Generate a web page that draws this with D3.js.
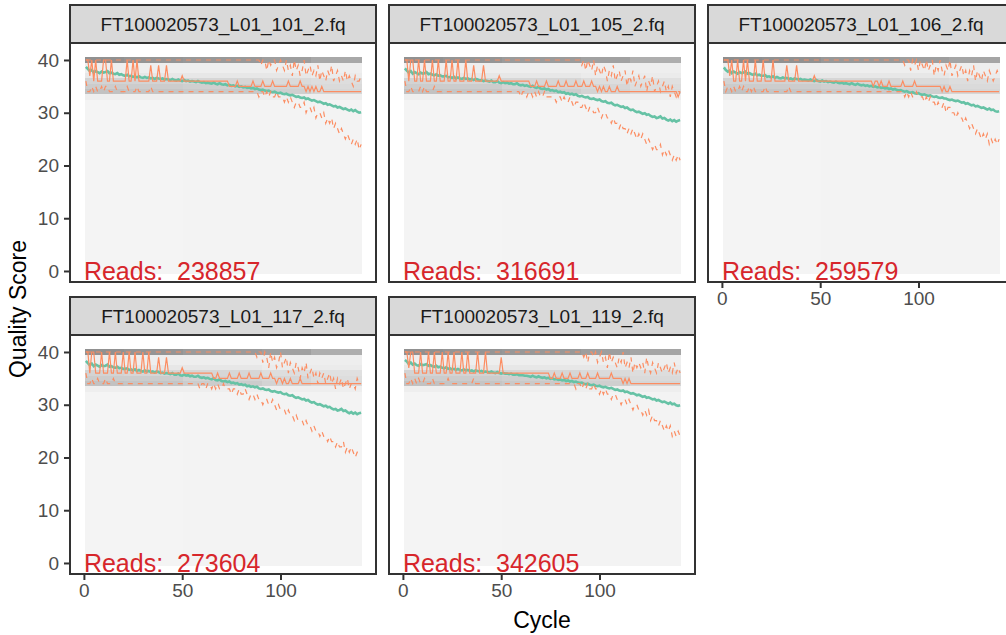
<!DOCTYPE html>
<html>
<head>
<meta charset="utf-8">
<script src="https://cdn.jsdelivr.net/npm/d3@7"></script>
<style>
  body { margin: 0; background: #fff; }
  text { font-family: "Liberation Sans", Arial, sans-serif; }
</style>
</head>
<body>
<div id="chart"></div>
<script>
// facet labels and read counts
const files = ["FT100020573_L01_101_2.fq", "FT100020573_L01_105_2.fq", "FT100020573_L01_106_2.fq",
               "FT100020573_L01_117_2.fq", "FT100020573_L01_119_2.fq"]
const readCounts = [238857, 316691, 259579, 273604, 342605]
const xTicks = [0, 50, 100]
const yTicks = [0, 10, 20, 30, 40]

// mean quality per cycle (cycles 1..141)
const mean101 = [38.7,38.3,37.9,38.1,37.6,37.9,37.7,37.5,37.8,37.6,
  37.7,37.9,37.5,37.6,37.4,37.3,37.5,37.2,37.3,37.1,
  37.0,37.2,36.9,37.0,36.8,36.9,36.7,36.9,36.7,36.6,
  36.8,36.6,36.7,36.5,36.6,36.4,36.6,36.5,36.4,36.5,
  36.3,36.4,36.3,36.2,36.4,36.2,36.1,36.3,36.1,36.0,
  36.2,36.0,36.1,35.9,36.0,35.9,35.8,36.0,35.8,35.7,
  35.8,35.6,35.7,35.6,35.5,35.7,35.5,35.4,35.6,35.4,
  35.3,35.4,35.2,35.3,35.1,35.2,35.0,35.1,34.9,35.0,
  34.8,34.9,34.7,34.8,34.6,34.7,34.5,34.6,34.4,34.3,
  34.4,34.2,34.1,34.2,34.0,33.9,34.0,33.8,33.7,33.8,
  33.6,33.5,33.6,33.4,33.3,33.4,33.2,33.0,33.1,32.9,
  32.8,32.9,32.6,32.7,32.5,32.3,32.4,32.2,32.0,32.1,
  31.9,31.7,31.8,31.5,31.6,31.4,31.2,31.3,31.0,31.1,
  30.9,30.7,30.8,30.6,30.4,30.6,30.3,30.5,30.2,30.0,30.1]
const mean105 = [38.4,38.0,37.6,37.9,37.4,37.7,37.5,37.3,37.6,37.4,
  37.5,37.7,37.3,37.4,37.2,37.1,37.3,37.0,37.1,36.9,
  36.9,37.0,36.7,36.8,36.6,36.8,36.5,36.7,36.5,36.4,
  36.6,36.4,36.5,36.3,36.4,36.2,36.4,36.3,36.1,36.2,
  36.0,36.1,36.0,35.9,36.1,35.8,35.8,36.0,35.7,35.6,
  35.8,35.6,35.7,35.5,35.6,35.4,35.4,35.6,35.3,35.2,
  35.3,35.1,35.2,35.0,34.9,35.1,34.8,34.7,34.9,34.6,
  34.5,34.6,34.4,34.5,34.2,34.3,34.1,34.2,33.9,34.0,
  33.8,33.9,33.6,33.7,33.5,33.6,33.4,33.5,33.2,33.1,
  33.2,33.0,32.9,33.0,32.7,32.6,32.7,32.5,32.4,32.5,
  32.2,32.1,32.2,31.9,31.8,31.9,31.6,31.4,31.5,31.3,
  31.1,31.2,30.9,31.0,30.7,30.5,30.6,30.3,30.1,30.2,
  30.0,29.8,29.9,29.6,29.7,29.4,29.2,29.3,29.0,29.1,
  29.3,28.9,29.0,28.7,28.5,28.7,28.4,28.6,28.3,28.5,28.6]
const mean106 = [38.6,38.1,37.8,38.0,37.5,37.8,37.6,37.4,37.7,37.5,
  37.6,37.8,37.4,37.5,37.3,37.2,37.4,37.1,37.2,37.0,
  37.0,37.1,36.8,36.9,36.7,36.9,36.6,36.8,36.6,36.5,
  36.7,36.5,36.6,36.4,36.5,36.3,36.5,36.4,36.3,36.4,
  36.2,36.3,36.2,36.1,36.3,36.1,36.0,36.2,36.0,35.9,
  36.1,35.9,36.0,35.8,35.9,35.8,35.7,35.9,35.7,35.6,
  35.7,35.5,35.6,35.5,35.4,35.6,35.4,35.3,35.5,35.3,
  35.2,35.3,35.1,35.2,35.0,35.1,34.9,35.0,34.8,34.9,
  34.7,34.8,34.6,34.7,34.5,34.6,34.4,34.5,34.3,34.2,
  34.3,34.1,34.0,34.1,33.9,33.8,33.9,33.7,33.6,33.7,
  33.5,33.4,33.5,33.3,33.2,33.3,33.1,33.0,33.1,32.9,
  32.8,32.9,32.7,32.7,32.5,32.4,32.5,32.3,32.2,32.3,
  32.1,31.9,32.0,31.7,31.8,31.6,31.4,31.5,31.2,31.3,
  31.1,30.9,31.0,30.8,30.6,30.8,30.5,30.6,30.3,30.2,30.3]
const mean117 = [38.3,37.9,37.5,37.8,37.3,37.6,37.4,37.2,37.5,37.3,
  37.4,37.6,37.2,37.3,37.1,37.0,37.2,36.9,37.0,36.8,
  36.8,36.9,36.6,36.7,36.5,36.7,36.4,36.6,36.4,36.3,
  36.5,36.3,36.4,36.2,36.3,36.1,36.3,36.2,36.0,36.1,
  35.9,36.0,35.9,35.8,36.0,35.7,35.7,35.9,35.6,35.5,
  35.7,35.5,35.6,35.4,35.5,35.3,35.3,35.5,35.2,35.1,
  35.2,35.0,35.1,34.9,34.8,35.0,34.7,34.6,34.8,34.5,
  34.4,34.5,34.3,34.4,34.1,34.2,34.0,34.1,33.8,33.9,
  33.7,33.8,33.5,33.6,33.4,33.5,33.3,33.4,33.1,33.0,
  33.1,32.9,32.8,32.9,32.6,32.5,32.6,32.4,32.3,32.4,
  32.1,32.0,32.1,31.8,31.7,31.8,31.5,31.3,31.4,31.2,
  31.0,31.1,30.8,30.9,30.6,30.4,30.5,30.2,30.0,30.1,
  29.9,29.7,29.8,29.5,29.6,29.3,29.1,29.2,28.9,29.0,
  29.2,28.8,28.9,28.6,28.4,28.6,28.3,28.5,28.2,28.4,28.5]
const mean119 = [38.5,38.2,37.7,38.0,37.6,37.8,37.5,37.4,37.7,37.5,
  37.6,37.7,37.4,37.5,37.3,37.2,37.4,37.1,37.2,37.0,
  36.9,37.1,36.8,36.9,36.7,36.8,36.6,36.8,36.6,36.5,
  36.7,36.5,36.6,36.4,36.5,36.3,36.5,36.4,36.3,36.4,
  36.2,36.3,36.2,36.1,36.3,36.1,36.0,36.2,36.0,35.9,
  36.0,35.9,35.9,35.8,35.9,35.7,35.7,35.8,35.6,35.6,
  35.6,35.5,35.5,35.4,35.3,35.5,35.3,35.2,35.4,35.2,
  35.1,35.2,35.0,35.1,34.9,35.0,34.8,34.9,34.7,34.8,
  34.6,34.7,34.5,34.6,34.4,34.5,34.3,34.4,34.2,34.1,
  34.2,34.0,33.9,34.0,33.8,33.7,33.8,33.6,33.5,33.6,
  33.4,33.3,33.4,33.2,33.1,33.2,33.0,32.8,32.9,32.7,
  32.6,32.7,32.4,32.5,32.3,32.1,32.2,32.0,31.8,31.9,
  31.7,31.5,31.6,31.3,31.4,31.2,31.0,31.1,30.8,30.9,
  30.7,30.5,30.6,30.4,30.2,30.4,30.1,30.2,29.9,29.8,29.9]

// 25th percentile per cycle
const q25_101 = [36,34,34,35,34,35,34,34,35,34,
  35,35,34,34,34,35,34,34,34,34,
  34,35,34,34,34,34,35,34,34,34,
  34,34,34,35,34,34,34,34,34,34,
  34,34,34,34,34,34,34,34,34,34,
  34,34,34,34,34,34,34,34,34,34,
  34,34,34,34,34,34,34,34,34,34,
  34,34,34,34,34,34,34,34,34,34,
  34,34,34,34,34,34,34,34,33,34,
  34,33,34,33,34,33,33,34,33,33,
  33,32,33,32,33,32,31,32,32,31,
  31,32,30,31,31,30,31,29,30,30,
  29,30,28,29,28,29,27,28,27,26,
  27,26,25,26,25,24,25,24,25,23,24]
const q25_105 = [36,34,34,35,34,34,34,34,35,34,
  35,34,34,34,34,35,34,34,34,34,
  34,34,34,34,34,34,34,34,34,34,
  34,34,34,34,34,34,34,34,34,34,
  34,34,34,34,34,34,34,34,34,34,
  34,34,34,34,34,34,34,34,34,33,
  34,34,33,34,34,33,34,33,34,33,
  33,34,33,33,33,33,33,32,33,33,
  32,33,32,32,33,32,31,32,32,31,
  31,32,31,30,31,31,30,30,31,30,
  29,30,30,29,29,28,29,28,28,27,
  28,27,27,26,27,26,27,26,25,26,
  25,26,25,24,25,24,23,24,23,23,
  24,22,23,22,23,22,21,22,21,22,21]
const q25_106 = [36,34,35,35,34,35,34,34,35,34,
  35,34,34,35,34,35,34,34,34,34,
  34,35,34,34,34,34,34,34,34,34,
  34,34,34,35,34,34,34,34,34,34,
  34,34,34,34,34,34,34,34,34,34,
  34,34,34,34,34,34,34,34,34,34,
  34,34,34,34,34,34,34,34,34,34,
  34,34,34,34,34,34,34,34,34,34,
  34,34,34,34,34,34,34,34,34,34,
  34,34,33,34,33,34,33,33,34,33,
  33,33,32,33,32,33,32,32,31,32,
  31,31,32,30,31,31,30,30,29,30,
  29,29,28,29,28,27,28,27,26,27,
  26,25,26,25,26,24,25,24,25,24,25]
const q25_117 = [36,34,34,35,34,34,35,34,34,34,
  35,34,34,34,35,34,34,34,34,34,
  34,34,34,34,34,34,34,34,34,34,
  34,34,34,34,34,34,34,34,34,34,
  34,34,34,34,34,34,34,34,34,34,
  34,34,34,34,34,34,34,34,33,34,
  34,33,34,34,33,34,33,34,33,33,
  34,33,33,33,32,33,33,32,33,32,
  32,33,32,31,32,32,31,32,31,31,
  30,31,31,30,30,31,30,29,30,29,
  29,29,28,29,28,28,27,28,27,27,
  27,26,27,26,26,25,26,25,25,24,
  25,24,24,23,24,23,23,22,23,22,
  22,23,21,22,21,22,21,20,21,21,21]
const q25_119 = [36,34,34,35,34,35,34,35,34,34,
  35,34,34,34,35,34,34,34,34,34,
  34,34,35,34,34,34,34,34,34,34,
  34,34,34,34,34,35,34,34,34,34,
  34,34,34,34,34,34,34,34,34,34,
  34,34,34,34,34,34,34,34,34,34,
  34,34,34,34,34,34,34,34,34,34,
  34,34,34,34,34,34,34,34,34,34,
  34,34,34,34,34,34,34,33,34,34,
  33,34,33,34,33,33,34,33,33,32,
  33,32,33,32,32,31,32,32,31,31,
  30,31,31,30,31,30,29,30,30,29,
  29,28,29,28,29,27,28,27,27,26,
  27,26,25,26,25,26,24,25,24,25,24]

// median per cycle
const q50_101 = [40,40,37,40,36,40,36,36,36,40,
  40,36,36,40,36,36,36,36,36,36,
  36,40,36,36,40,36,40,36,36,36,
  36,36,36,39,36,36,36,39,36,36,
  36,39,36,36,36,36,36,36,36,37,
  36,36,36,36,36,36,36,36,36,36,
  36,36,36,36,36,36,36,36,36,36,
  36,36,36,35,35,35,35,36,35,35,
  35,35,35,35,35,36,35,35,35,35,
  36,35,35,35,35,36,35,35,35,35,
  35,35,35,36,35,35,35,35,35,36,
  35,35,34,35,34,35,34,35,34,34,
  35,34,34,34,34,34,34,34,34,34,
  34,34,34,34,34,34,34,34,34,34,34]
const q50_105 = [40,40,36,40,40,36,36,40,36,36,
  40,36,36,36,40,36,36,40,36,36,
  36,40,36,36,40,36,36,40,36,36,
  36,40,36,36,36,39,36,36,36,36,
  39,36,36,36,36,36,36,36,37,36,
  36,36,36,36,36,36,36,36,36,36,
  36,36,36,36,35,35,35,36,35,35,
  35,35,36,35,35,35,35,35,36,35,
  35,35,36,35,35,35,35,36,35,35,
  35,36,35,35,35,36,35,35,34,35,
  34,35,34,34,35,34,34,34,35,34,
  34,34,34,34,34,34,34,34,34,34,
  34,34,34,34,34,34,34,34,34,34,
  34,34,34,34,34,34,34,34,34,33,34]
const q50_106 = [40,40,40,37,40,36,36,40,36,36,
  40,36,40,36,36,36,40,36,36,36,
  40,36,36,36,36,40,36,36,36,36,
  36,36,39,36,36,36,36,39,36,36,
  36,36,36,36,36,36,37,36,36,36,
  36,36,36,36,36,36,36,36,36,36,
  36,36,36,36,36,36,36,36,36,36,
  36,36,36,36,36,36,35,36,36,35,
  36,35,35,35,36,35,35,35,35,35,
  35,36,35,35,35,35,35,36,35,35,
  35,35,35,35,35,35,35,35,35,35,
  35,34,35,34,34,35,34,34,34,34,
  34,34,34,34,34,34,34,34,34,34,
  34,34,34,34,34,34,34,34,34,34,34]
const q50_117 = [40,40,36,40,40,36,36,36,40,36,
  36,36,40,36,36,40,36,36,36,40,
  36,36,40,36,36,40,36,36,36,40,
  36,36,40,36,36,36,36,39,36,36,
  36,39,36,36,36,36,36,36,36,37,
  36,36,36,36,36,36,36,36,36,36,
  36,36,36,36,36,35,35,36,35,35,
  35,35,35,36,35,35,35,35,36,35,
  35,35,35,36,35,35,35,35,35,36,
  35,35,35,35,36,35,35,34,35,35,
  34,35,34,34,35,34,34,34,34,35,
  34,34,34,34,34,34,34,34,34,34,
  34,34,34,34,34,34,34,34,34,34,
  34,34,34,34,34,34,34,34,34,34,34]
const q50_119 = [40,40,37,40,40,36,36,36,40,36,
  36,36,40,36,36,40,36,36,36,40,
  36,36,40,36,36,40,36,36,36,40,
  36,36,40,36,36,36,36,40,36,36,
  36,40,36,36,36,36,36,36,36,39,
  36,36,36,36,36,36,36,36,36,36,
  36,36,36,36,36,36,36,36,36,36,
  36,36,36,36,35,35,36,35,35,35,
  36,35,35,35,36,35,35,35,35,36,
  35,35,35,36,35,35,35,35,36,35,
  35,35,35,35,35,36,35,35,35,35,
  35,34,35,34,35,34,34,34,34,34,
  34,34,34,34,34,34,34,34,34,34,
  34,34,34,34,34,34,34,34,34,34,34]

// 75th percentile per cycle
const q75_101 = [40,40,40,40,40,40,40,40,40,40,
  40,40,40,40,40,40,40,40,40,40,
  40,40,40,40,40,40,40,40,40,40,
  40,40,40,40,40,40,40,40,40,40,
  40,40,40,40,40,40,40,40,40,40,
  40,40,40,40,40,40,40,40,40,40,
  40,40,40,40,40,40,40,40,40,40,
  40,40,40,40,40,40,40,40,40,40,
  40,40,40,40,40,40,40,40,40,39,
  40,40,38,40,39,40,40,38,39,40,
  39,38,40,38,39,37,40,38,39,37,
  38,40,37,38,39,37,38,37,39,36,
  38,37,36,38,37,39,36,37,38,36,
  37,36,38,36,37,36,35,37,36,36,37]
const q75_105 = [40,40,40,40,40,40,40,40,40,40,
  40,40,40,40,40,40,40,40,40,40,
  40,40,40,40,40,40,40,40,40,40,
  40,40,40,40,40,40,40,40,40,40,
  40,40,40,40,40,40,40,40,40,40,
  40,40,40,40,40,40,40,40,40,40,
  40,40,40,40,40,40,40,40,40,40,
  40,40,40,40,40,40,40,40,40,40,
  40,40,40,40,40,40,40,40,40,40,
  39,40,38,40,39,38,40,37,39,38,
  37,39,38,36,38,37,39,36,37,38,
  36,37,38,35,37,36,38,35,36,37,
  35,36,37,34,36,35,37,34,35,36,
  34,35,36,34,35,33,35,34,33,34,34]
const q75_106 = [40,40,40,40,40,40,40,40,40,40,
  40,40,40,40,40,40,40,40,40,40,
  40,40,40,40,40,40,40,40,40,40,
  40,40,40,40,40,40,40,40,40,40,
  40,40,40,40,40,40,40,40,40,40,
  40,40,40,40,40,40,40,40,40,40,
  40,40,40,40,40,40,40,40,40,40,
  40,40,40,40,40,40,40,40,40,40,
  40,40,40,40,40,40,40,40,40,40,
  40,40,39,40,40,38,40,39,40,38,
  40,39,38,40,38,39,40,37,39,38,
  40,38,37,39,38,40,37,38,39,37,
  38,39,37,38,36,38,37,39,36,38,
  37,36,38,37,36,38,37,36,37,38,37]
const q75_117 = [40,40,40,40,40,40,40,40,40,40,
  40,40,40,40,40,40,40,40,40,40,
  40,40,40,40,40,40,40,40,40,40,
  40,40,40,40,40,40,40,40,40,40,
  40,40,40,40,40,40,40,40,40,40,
  40,40,40,40,40,40,40,40,40,40,
  40,40,40,40,40,40,40,40,40,40,
  40,40,40,40,40,40,40,40,40,40,
  40,40,40,40,40,40,40,39,40,40,
  38,40,39,37,40,38,39,37,38,40,
  37,38,39,36,38,37,36,38,37,35,
  37,36,38,35,36,37,35,36,34,36,
  35,36,34,35,36,34,35,33,35,34,
  35,33,34,35,33,34,34,33,35,34,34]
const q75_119 = [40,40,40,40,40,40,40,40,40,40,
  40,40,40,40,40,40,40,40,40,40,
  40,40,40,40,40,40,40,40,40,40,
  40,40,40,40,40,40,40,40,40,40,
  40,40,40,40,40,40,40,40,40,40,
  40,40,40,40,40,40,40,40,40,40,
  40,40,40,40,40,40,40,40,40,40,
  40,40,40,40,40,40,40,40,40,40,
  40,40,40,40,40,40,40,40,40,40,
  40,39,40,38,40,40,39,40,38,39,
  40,38,39,37,40,38,39,38,37,39,
  38,40,37,38,37,39,36,38,37,38,
  37,38,36,39,37,36,38,37,36,38,
  37,36,37,38,36,37,36,38,36,37,36]

// read share (%) per score, by cycle block; scores 40..33, lower scores share lowScorePct
const heatScores = [40, 39, 38, 37, 36, 35, 34, 33]
const heatBlocks = [[1, 20], [21, 50], [51, 90], [91, 115], [116, 141]]
const lowScorePct = [0.4, 0.4, 0.5, 0.6, 0.7]
const heat101 = [[30,2,2,4,10,12,15,2],[29,2,2,4,10,12,14,2],[28,2,2,4,9,11,13,2],[26,2,2,4,8,10,11,2],[23,2,2,3,7,8,9,2]]
const heat105 = [[30,2,2,4,10,12,15,2],[29,2,2,4,9,12,14,2],[27,2,2,4,9,10,12,2],[25,2,2,3,7,9,10,2],[21,2,2,3,6,7,8,2]]
const heat106 = [[31,2,2,4,10,12,15,2],[30,2,2,4,10,12,14,2],[28,2,2,4,9,11,13,2],[26,2,2,4,8,10,11,2],[24,2,2,3,7,8,9,2]]
const heat117 = [[30,2,2,4,10,12,15,2],[29,2,2,4,9,12,14,2],[27,2,2,4,9,10,12,2],[25,2,2,3,7,9,10,2],[21,2,2,3,6,7,8,2]]
const heat119 = [[30,2,2,4,10,12,15,2],[29,2,2,4,10,12,14,2],[28,2,2,4,9,11,13,2],[26,2,2,4,8,10,11,2],[24,2,2,3,7,8,9,2]]

const meanQ = [mean101, mean105, mean106, mean117, mean119]
const q25Q = [q25_101, q25_105, q25_106, q25_117, q25_119]
const q50Q = [q50_101, q50_105, q50_106, q50_117, q50_119]
const q75Q = [q75_101, q75_105, q75_106, q75_117, q75_119]
const heatQ = [heat101, heat105, heat106, heat117, heat119]

const WIDTH = 1006, HEIGHT = 635
const PANEL_W = 306, PANEL_H = 239, STRIP_H = 38
const colLeft = [70, 389, 708]
const rowTop = [5, 297]

const svg = d3.select("#chart").append("svg")
    .attr("width", WIDTH)
    .attr("height", HEIGHT)
svg.append("rect").attr("width", WIDTH).attr("height", HEIGHT).attr("fill", "#fff")

const x = d3.scaleLinear().domain([-7.07, 148.57]).range([0, PANEL_W])
const y = d3.scaleLinear().domain([-2.09, 43.22]).range([PANEL_H, 0])
const fill = d3.scaleLinear().domain([0, 80]).range(["#F5F5F5", "#000000"])
    .interpolate(d3.interpolateLab).clamp(true)

const allScores = d3.range(0, 41)

files.forEach((file, i) => {
    const col = i % 3, row = Math.floor(i / 3)
    const g = svg.append("g").attr("transform", `translate(${colLeft[col]}, ${rowTop[row]})`)

    // strip
    g.append("rect")
        .attr("width", PANEL_W).attr("height", STRIP_H)
        .attr("fill", "#D9D9D9").attr("stroke", "#333333").attr("stroke-width", 2)
    g.append("text")
        .attr("x", PANEL_W / 2).attr("y", STRIP_H / 2)
        .attr("dy", "0.36em")
        .attr("text-anchor", "middle")
        .attr("font-size", "19px")
        .attr("fill", "#1A1A1A")
        .text(file)

    const p = g.append("g").attr("transform", `translate(0, ${STRIP_H})`)
    p.append("rect").attr("width", PANEL_W).attr("height", PANEL_H).attr("fill", "#fff")

    // heatmap tiles
    const tiles = []
    heatBlocks.forEach((b, bi) => {
        allScores.forEach(s => {
            const k = heatScores.indexOf(s)
            tiles.push({ c0: b[0], c1: b[1], score: s, pct: k >= 0 ? heatQ[i][bi][k] : lowScorePct[bi] })
        })
    })
    p.append("g").attr("shape-rendering", "crispEdges")
        .selectAll("rect").data(tiles).enter().append("rect")
        .attr("x", d => x(d.c0 - 0.5))
        .attr("width", d => x(d.c1 + 0.5) - x(d.c0 - 0.5))
        .attr("y", d => y(d.score + 0.5))
        .attr("height", d => y(d.score - 0.5) - y(d.score + 0.5))
        .attr("fill", d => fill(d.pct))

    const line = d3.line().x((d, j) => x(j + 1)).y(d => y(d))

    p.append("path").datum(meanQ[i])
        .attr("d", line).attr("fill", "none")
        .attr("stroke", "#66C2A5").attr("stroke-width", 2.6)
    p.append("path").datum(q25Q[i])
        .attr("d", line).attr("fill", "none")
        .attr("stroke", "#FC8D62").attr("stroke-width", 1.2).attr("stroke-dasharray", "5,5")
    p.append("path").datum(q50Q[i])
        .attr("d", line).attr("fill", "none")
        .attr("stroke", "#FC8D62").attr("stroke-width", 1.2)
    p.append("path").datum(q75Q[i])
        .attr("d", line).attr("fill", "none")
        .attr("stroke", "#FC8D62").attr("stroke-width", 1.2).attr("stroke-dasharray", "5,5")

    p.append("text")
        .attr("x", x(0)).attr("y", y(0))
        .attr("dy", "0.36em")
        .attr("font-size", "25px")
        .attr("fill", "#D7262B")
        .style("white-space", "pre")
        .text("Reads:  " + readCounts[i])

    p.append("rect")
        .attr("width", PANEL_W).attr("height", PANEL_H)
        .attr("fill", "none").attr("stroke", "#333333").attr("stroke-width", 2)

    // axes
    if (col === 0) {
        const ya = p.append("g").call(d3.axisLeft(y).tickValues(yTicks).tickSize(6).tickPadding(5))
        styleAxis(ya)
    }
    const below = i + 3 < files.length
    if (!below) {
        const xa = p.append("g").attr("transform", `translate(0, ${PANEL_H})`)
            .call(d3.axisBottom(x).tickValues(xTicks).tickSize(6).tickPadding(4))
        styleAxis(xa)
    }
})

function styleAxis(a) {
    a.select(".domain").remove()
    a.selectAll(".tick line").attr("stroke", "#333333").attr("stroke-width", 2)
    a.selectAll(".tick text").attr("fill", "#4D4D4D").attr("font-size", "19px")
        .attr("font-family", "Liberation Sans, Arial, sans-serif")
}

// axis titles
svg.append("text")
    .attr("x", 542).attr("y", 628)
    .attr("text-anchor", "middle")
    .attr("font-size", "23px")
    .attr("fill", "#000")
    .text("Cycle")
svg.append("text")
    .attr("transform", "translate(26, 309) rotate(-90)")
    .attr("text-anchor", "middle")
    .attr("font-size", "23px")
    .attr("fill", "#000")
    .text("Quality Score")
</script>
</body>
</html>
